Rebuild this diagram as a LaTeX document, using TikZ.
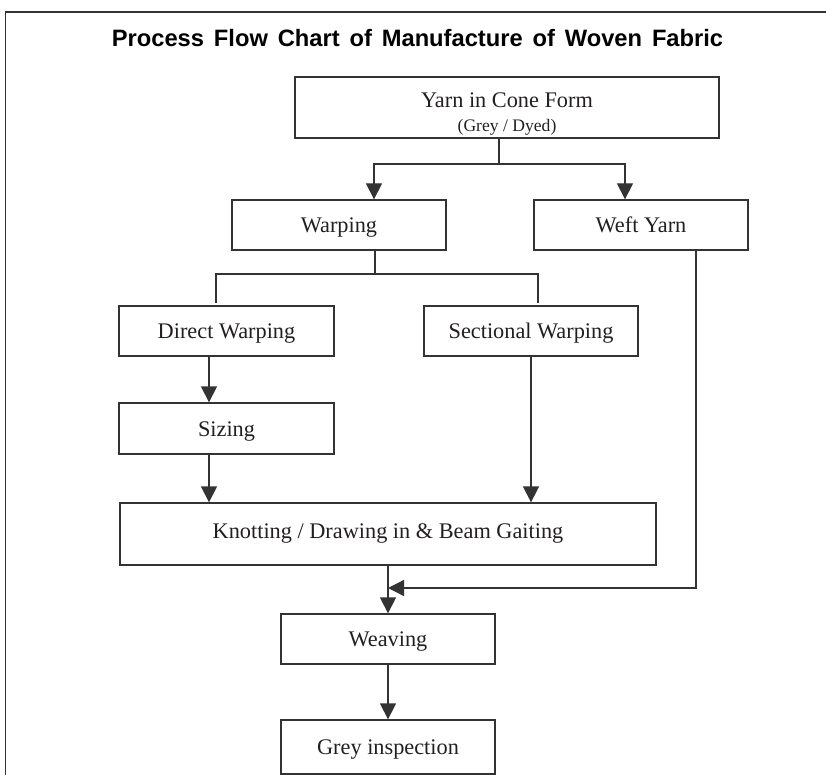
\documentclass[tikz,border=0pt]{standalone}
\usepackage{fontspec}
\setmainfont{Liberation Serif}
\newfontfamily\titlefont[WordSpace=1.5]{Liberation Sans}
\usetikzlibrary{arrows.meta}
\definecolor{ink}{HTML}{231F20}
\definecolor{rule}{HTML}{333333}
\tikzset{>={Triangle[width=16pt,length=16pt]}}
\tikzset{
  stage/.style={draw=rule, line width=1.3pt, text=ink, inner sep=0pt,
    text height=15pt, text depth=0pt, font=\fontsize{22.3}{22}\selectfont},
  flow/.style={draw=rule, line width=1.3pt, ->},
  link/.style={draw=rule, line width=1.3pt},
}

\begin{document}
\begin{tikzpicture}[x=1pt,y=-1pt]
\useasboundingbox (0,0) rectangle (826,775);
% frame and heading
\draw[rule, line width=1.6pt] (5.5,775) -- (5.5,12) -- (826,12);
\node[anchor=base, text=black, font=\titlefont\fontsize{23.7}{28}\bfseries] (title) at (417.5,47)
  {Process Flow Chart of Manufacture of Woven Fabric};

% stages
\node[stage, minimum width=424pt, minimum height=61pt, text height=8pt, text depth=8pt,
  label={[anchor=base, yshift=7pt, inner sep=0pt, text=ink, font=\fontsize{17.6}{20}\selectfont]south:(Grey / Dyed)}]
  (yarn) at (507,107.5) {Yarn in Cone Form};
\node[stage, minimum width=214pt, minimum height=50pt] (warping) at (339,225) {Warping};
\node[stage, minimum width=214pt, minimum height=50pt] (weft) at (641,225) {Weft Yarn};
\node[stage, minimum width=215pt, minimum height=50pt] (direct) at (226.5,331) {Direct Warping};
\node[stage, minimum width=214pt, minimum height=50pt] (sectional) at (531,331) {Sectional Warping};
\node[stage, minimum width=215pt, minimum height=51pt] (sizing) at (226.5,428.5) {Sizing};
\node[stage, minimum width=536pt, minimum height=62pt, text depth=7pt] (knot) at (388,534)
  {Knotting / Drawing in \& Beam Gaiting};
\node[stage, minimum width=214pt, minimum height=50pt] (weaving) at (388,639) {Weaving};
\node[stage, minimum width=214pt, minimum height=54pt] (grey) at (388,747) {Grey inspection};

% yarn splits into warp and weft
\coordinate (split) at (499,164);
\draw[link] (yarn.south -| split) -- (split);
\draw[flow] (split) -| ([xshift=35pt]warping.north);
\draw[flow] (split) -| ([xshift=-16pt]weft.north);

% warping methods
\coordinate (fork) at (375,274);
\coordinate (forkL) at (216,303);
\coordinate (forkR) at (538,303);
\draw[link] ([xshift=36pt]warping.south) -- (fork);
\draw[link] (forkL) |- (fork) -| (forkR);

\draw[flow] ([xshift=-17.5pt]direct.south) -- ([xshift=-17.5pt]sizing.north);
\draw[flow] ([xshift=-17.5pt]sizing.south) coordinate (s) -- (s |- knot.north);
\draw[flow] (sectional.south) -- (sectional.south |- knot.north);

% weft joins before weaving
\coordinate (merge) at (388,588);
\draw[flow] ([xshift=55pt]weft.south) |- (merge);
\draw[flow] (knot.south) -- (weaving.north);
\draw[flow] (weaving.south) -- (grey.north);
\end{tikzpicture}
\end{document}
